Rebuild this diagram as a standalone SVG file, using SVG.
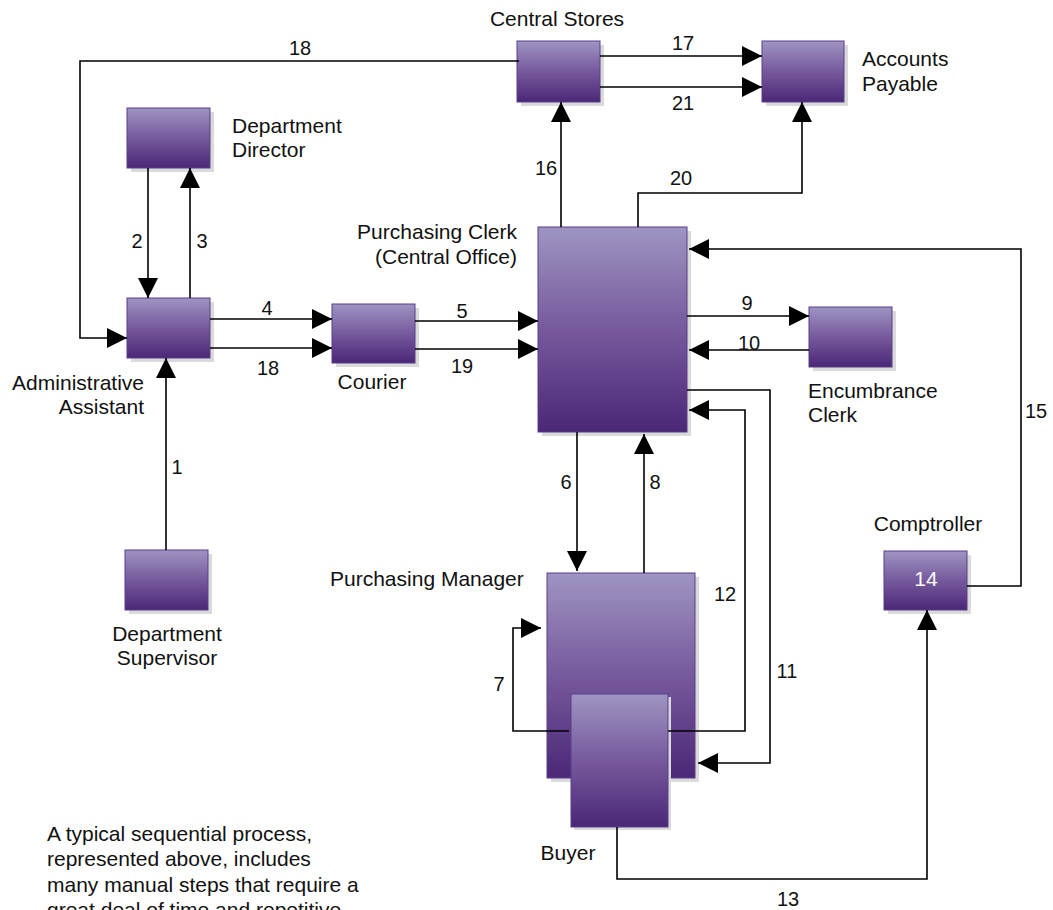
<svg xmlns="http://www.w3.org/2000/svg" width="1053" height="910" viewBox="0 0 1053 910">
  <style>
    .box { fill: url(#boxFill); stroke: #5b3d8c; stroke-width: 1; }
    .shadow { fill: #dadada; }
    .lbl { font-family: "Liberation Sans", Arial, sans-serif; font-size: 21px; fill: #111; }
    .num { font-family: "Liberation Sans", Arial, sans-serif; font-size: 20px; fill: #111; text-anchor: middle; }
    .mid { text-anchor: middle; }
    .end { text-anchor: end; }
    .wire { fill: none; stroke: #000; stroke-width: 1.6; }
    .arrow { marker-end: url(#head); }
  </style>
  <defs>
    <linearGradient id="boxFill" x1="0" y1="0" x2="0" y2="1">
      <stop offset="0" stop-color="#9e95c2"/>
      <stop offset="0.45" stop-color="#7a5fa0"/>
      <stop offset="1" stop-color="#4b2777"/>
    </linearGradient>
    <marker id="head" markerUnits="userSpaceOnUse" markerWidth="20" markerHeight="20" refX="20" refY="10" orient="auto">
      <path d="M0,0 L20,10 L0,20 Z" fill="#000"/>
    </marker>
  </defs>

  <rect width="1053" height="910" fill="#fff"/>

  <!-- nodes -->
  <g id="central-stores">
    <rect class="shadow" x="521" y="45" width="83" height="61"/>
    <rect class="box" x="517" y="41" width="83" height="61"/>
    <text class="lbl mid" x="557" y="26">Central Stores</text>
  </g>
  <g id="accounts-payable">
    <rect class="shadow" x="766" y="45" width="82" height="61"/>
    <rect class="box" x="762" y="41" width="82" height="61"/>
    <text class="lbl" x="862" y="66">Accounts</text>
    <text class="lbl" x="862" y="91">Payable</text>
  </g>
  <g id="department-director">
    <rect class="shadow" x="131" y="112" width="83" height="60"/>
    <rect class="box" x="127" y="108" width="83" height="60"/>
    <text class="lbl" x="232" y="133">Department</text>
    <text class="lbl" x="232" y="157">Director</text>
  </g>
  <g id="administrative-assistant">
    <rect class="shadow" x="131" y="302" width="83" height="60"/>
    <rect class="box" x="127" y="298" width="83" height="60"/>
    <text class="lbl end" x="144" y="390">Administrative</text>
    <text class="lbl end" x="144" y="414">Assistant</text>
  </g>
  <g id="courier">
    <rect class="shadow" x="336" y="308" width="83" height="59"/>
    <rect class="box" x="332" y="304" width="83" height="59"/>
    <text class="lbl mid" x="372" y="389">Courier</text>
  </g>
  <g id="purchasing-clerk">
    <rect class="shadow" x="542" y="231" width="149" height="205"/>
    <rect class="box" x="538" y="227" width="149" height="205"/>
    <text class="lbl end" x="517" y="239">Purchasing Clerk</text>
    <text class="lbl end" x="517" y="264">(Central Office)</text>
  </g>
  <g id="encumbrance-clerk">
    <rect class="shadow" x="813" y="311" width="83" height="60"/>
    <rect class="box" x="809" y="307" width="83" height="60"/>
    <text class="lbl" x="808" y="398">Encumbrance</text>
    <text class="lbl" x="808" y="422">Clerk</text>
  </g>
  <g id="department-supervisor">
    <rect class="shadow" x="129" y="554" width="83" height="60"/>
    <rect class="box" x="125" y="550" width="83" height="60"/>
    <text class="lbl mid" x="167" y="641">Department</text>
    <text class="lbl mid" x="167" y="665">Supervisor</text>
  </g>
  <g id="comptroller">
    <rect class="shadow" x="888" y="555" width="83" height="59"/>
    <rect class="box" x="884" y="551" width="83" height="59"/>
    <text class="lbl mid" x="928" y="531">Comptroller</text>
    <text class="lbl mid" x="926" y="586" style="fill:#fff">14</text>
  </g>
  <g id="purchasing-manager">
    <rect class="shadow" x="551" y="577" width="148" height="205"/>
    <rect class="box" x="547" y="573" width="148" height="205"/>
    <text class="lbl" x="330" y="586">Purchasing Manager</text>
  </g>
  <g id="buyer">
    <rect class="shadow" x="574" y="697" width="97" height="133"/>
    <rect class="box" x="571" y="694" width="97" height="133"/>
    <text class="lbl mid" x="568" y="860">Buyer</text>
  </g>

  <!-- connectors, drawn above the boxes -->
  <g id="connectors">
    <!-- 18: Central Stores back to Administrative Assistant -->
    <polyline class="wire arrow" points="519,61 80,61 80,338 127,338"/>
    <!-- 17, 21 -->
    <line class="wire arrow" x1="600" y1="56" x2="762" y2="56"/>
    <line class="wire arrow" x1="600" y1="87" x2="762" y2="87"/>
    <!-- 2, 3 -->
    <line class="wire arrow" x1="148" y1="168" x2="148" y2="298"/>
    <line class="wire arrow" x1="190" y1="298" x2="190" y2="168"/>
    <!-- 4, 18 -->
    <line class="wire arrow" x1="210" y1="319" x2="332" y2="319"/>
    <line class="wire arrow" x1="210" y1="348" x2="332" y2="348"/>
    <!-- 5, 19 -->
    <line class="wire arrow" x1="415" y1="321" x2="538" y2="321"/>
    <line class="wire arrow" x1="415" y1="349" x2="538" y2="349"/>
    <!-- 1 -->
    <line class="wire arrow" x1="166" y1="550" x2="166" y2="358"/>
    <!-- 16 -->
    <line class="wire arrow" x1="561" y1="227" x2="561" y2="102"/>
    <!-- 20 -->
    <polyline class="wire arrow" points="638,227 638,193 802,193 802,102"/>
    <!-- 15 -->
    <polyline class="wire arrow" points="967,586 1021,586 1021,249 689,249"/>
    <!-- 9, 10 -->
    <line class="wire arrow" x1="687" y1="316" x2="809" y2="316"/>
    <line class="wire arrow" x1="809" y1="350" x2="689" y2="350"/>
    <!-- 11 -->
    <polyline class="wire arrow" points="687,390 770,390 770,763 698,763"/>
    <!-- 12 -->
    <polyline class="wire arrow" points="668,731 745,731 745,410 689,410"/>
    <!-- 6, 8 -->
    <line class="wire arrow" x1="577" y1="432" x2="577" y2="571"/>
    <line class="wire arrow" x1="644" y1="573" x2="644" y2="434"/>
    <!-- 7 -->
    <polyline class="wire arrow" points="569,731 513,731 513,628 541,628"/>
    <!-- 13 -->
    <polyline class="wire arrow" points="617,827 617,879 927,879 927,610"/>
  </g>

  <!-- connector numbers -->
  <g id="connector-labels">
    <text class="num" x="300" y="55">18</text>
    <text class="num" x="683" y="50">17</text>
    <text class="num" x="683" y="110">21</text>
    <text class="num" x="137" y="248">2</text>
    <text class="num" x="202" y="248">3</text>
    <text class="num" x="546" y="175">16</text>
    <text class="num" x="681" y="185">20</text>
    <text class="num" x="267" y="315">4</text>
    <text class="num" x="268" y="375">18</text>
    <text class="num" x="462" y="318">5</text>
    <text class="num" x="462" y="373">19</text>
    <text class="num" x="747" y="310">9</text>
    <text class="num" x="749" y="350">10</text>
    <text class="num" x="1036" y="418">15</text>
    <text class="num" x="177" y="474">1</text>
    <text class="num" x="566" y="489">6</text>
    <text class="num" x="655" y="489">8</text>
    <text class="num" x="725" y="601">12</text>
    <text class="num" x="787" y="678">11</text>
    <text class="num" x="499" y="691">7</text>
    <text class="num" x="788" y="906">13</text>
  </g>

  <g id="caption">
    <text class="lbl" x="47" y="841">A typical sequential process,</text>
    <text class="lbl" x="47" y="866">represented above, includes</text>
    <text class="lbl" x="47" y="892">many manual steps that require a</text>
    <text class="lbl" x="47" y="917">great deal of time and repetitive</text>
  </g>
</svg>
